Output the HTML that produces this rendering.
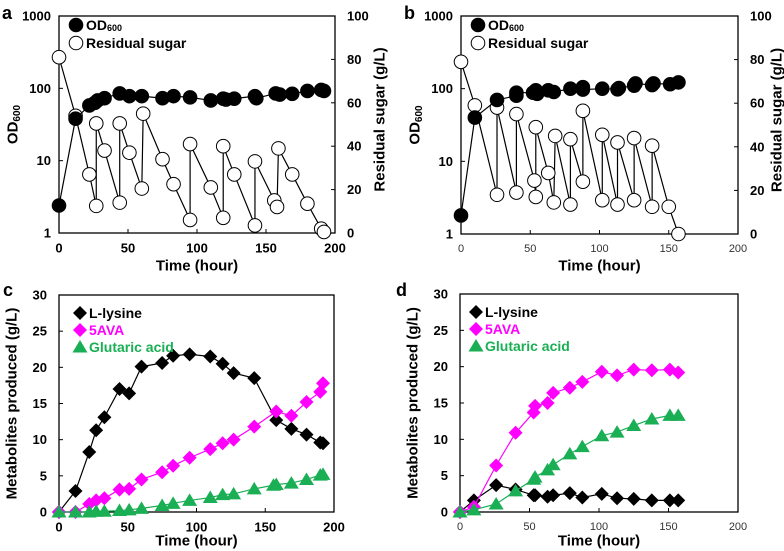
<!DOCTYPE html>
<html><head><meta charset="utf-8"><style>
body{margin:0;background:#fff;}
svg{display:block;font-family:"Liberation Sans",Arial,sans-serif;font-weight:bold;}
</style></head><body>
<svg id="fig" width="784" height="551" viewBox="0 0 784 551"></svg>
<script>
// Panel a data
const aOdT=[0,12,22,26,28,33,44,51,60,75,83,95,110,119,121,127,142,143,157,160,169,180,190,192];
const aOdV=[2.4,38,58,63,68,73,85,78,78,73,78,75,68,72,70,72,78,73,85,82,84,92,95,92];
const aSugT=[0,12,22,27,27,33,44,44,51,60,61,75,83,95,95,110,119,119,127,142,142,156,158,159,169,180,190,192];
const aSugV=[81,54,27,12.5,50.5,38,14,50.5,37,20.5,55,34,22.5,6,41,21,7,40,27,3.5,33,15,12,39,27,13.5,2,0.5];
// Panel b data
const bOdT=[0,10,26,40,40,52,54,55,63,67,79,88,88,102,113,114,125,126,138,139,151,157];
const bOdV=[1.8,40,70,80,88,88,95,85,95,90,100,105,97,100,98,102,110,118,112,118,115,122];
const bSugT=[0,10,26,26,40,40,53,54,54,63,67,68,79,79,88,88,102,102,113,113,125,125,138,138,150,157];
const bSugV=[79,59,18,58,19,55,24.5,17,49,28,14.5,45,13.5,43.5,24,56.5,15.5,45.5,13.5,42,15.5,44,12.5,40.5,12.5,0];
// Panel c data
const cT=[0,12,22,27,33,44,51,60,75,83,95,110,119,127,142,158,169,180,190,192];
const cLys=[0,2.9,8.3,11.3,13.1,17,16.4,20.1,20.6,21.6,21.8,21.5,20.5,19.2,18.5,12.7,11.5,10.7,9.6,9.5];
const cAva=[0,0,1.1,1.6,1.9,3.1,3.2,4.5,5.5,6.4,7.5,8.7,9.5,10,11.8,13.9,13.3,15.2,16.6,17.8];
const cGluT=[0,12,22,27,33,44,51,60,75,83,95,110,119,127,142,156,158,169,180,190,192];
const cGlu=[0,0,0,0.1,0.1,0.2,0.3,0.5,0.9,1.2,1.6,2,2.4,2.5,3.2,3.7,3.8,4,4.5,5.1,5.2];
// Panel d data
const dT=[0,10,26,40,53,54,63,67,79,88,102,113,125,138,151,157];
const dLys=[0,1.6,3.7,3.1,2.3,2.3,2.1,2.3,2.6,2,2.5,1.9,1.8,1.6,1.6,1.6];
const dAva=[0,0.7,6.4,10.9,13.7,14.6,15,16.4,17.1,17.9,19.3,18.8,19.6,19.5,19.6,19.2];
const dGlu=[0,0.3,1.1,2.9,4.5,4.8,5.8,6.5,8,9,10.5,11,11.9,12.8,13.3,13.3];
const xTicks=[0,50,100,150,200];
const logTicks=[1,10,100,1000];
const sugTicks=[0,20,40,60,80,100];
const metTicks=[0,5,10,15,20,25,30];

const NS="http://www.w3.org/2000/svg";
const svg=document.getElementById('fig');
function mk(tag,attrs,parent){const e=document.createElementNS(NS,tag);for(const k in attrs)e.setAttribute(k,attrs[k]);(parent||svg).appendChild(e);return e;}
function txt(x,y,s,size,anchor,parent,rot,fill,weight){const t=mk('text',{x:x,y:y,'font-size':size,'text-anchor':anchor||'middle','dominant-baseline':'central',fill:fill||'#000'},parent);if(weight)t.setAttribute('font-weight',weight);if(rot)t.setAttribute('transform','rotate(-90 '+x+' '+y+')');t.textContent=s;return t;}

function marker(g,type,x,y,fill){
  if(type==='circle') return mk('circle',{cx:x,cy:y,r:6.8,fill:fill,stroke:'#000','stroke-width':1},g);
  if(type==='diamond') return mk('polygon',{points:`${x},${y-7} ${x+7},${y} ${x},${y+7} ${x-7},${y}`,fill:fill},g);
  return mk('polygon',{points:`${x},${y-7} ${x+7.5},${y+5.5} ${x-7.5},${y+5.5}`,fill:fill},g);
}
function series(g,name,ts,vs,fx,fy,type,fill,lineColor){
  const sg=mk('g',{},g);
  
  
  const pts=ts.map((t,i)=>fx(t)+','+fy(vs[i])).join(' ');
  mk('polyline',{points:pts,fill:'none',stroke:lineColor,'stroke-width':1.2},sg);
  ts.forEach((t,i)=>{const m=marker(sg,type,fx(t),fy(vs[i]),fill);
    
    });
}
function frame(g,x0,x1,y0,y1){mk('rect',{x:x0,y:y0,width:x1-x0,height:y1-y0,fill:'none',stroke:'#000','stroke-width':1.3},g);}
function xAxis(g,fx,y1,x0,light){
  xTicks.forEach(v=>{mk('line',{x1:fx(v),x2:fx(v),y1:y1,y2:y1-4,stroke:'#000'},g);
    const t=txt(fx(v),y1+15,String(v),light?11:13,'middle',g,false,light?'#333':'#000',light?'normal':'bold');
    });
}
function panel(letter){
  const g=mk('g',{});
  
  
  return g;
}

function odPanel(letter,x0,x1,y0,y1,odT,odV,sT,sV,light,letterX,y2off){
  const g=panel(letter);
  const fx=t=>x0+(t/200)*(x1-x0);
  const fy=v=>y1-(Math.log10(v)/3)*(y1-y0);
  const fs=v=>y1-(v/100)*(y1-y0);
  frame(g,x0,x1,y0,y1);
  logTicks.forEach(v=>{mk('line',{x1:x0,x2:x0+4,y1:fy(v),y2:fy(v),stroke:'#000'},g);
    const t=txt(x0-8,fy(v),String(v),13,'end',g);});
  sugTicks.forEach(v=>{mk('line',{x1:x1,x2:x1-4,y1:fs(v),y2:fs(v),stroke:'#000'},g);
    const t=txt(x1+12,fs(v),String(v),13,'start',g);});
  xAxis(g,fx,y1,x0,light);
  const xt=txt((x0+x1)/2,266,'Time (hour)',15,'middle',g);
  const yt=mk('text',{x:x0-46,y:(y0+y1)/2,'font-size':15,'text-anchor':'middle','dominant-baseline':'central',transform:`rotate(-90 ${x0-46} ${(y0+y1)/2})`},g);
  yt.innerHTML='OD<tspan font-size="10" dy="4">600</tspan>';
  
  const y2=txt(x1+y2off,(y0+y1)/2-5,'Residual sugar (g/L)',15,'middle',g,true);
  series(g,'residual-sugar-series',sT,sV,fx,fs,'circle','#fff','#000');
  series(g,'od600-series',odT,odV,fx,fy,'circle','#000','#000');
  const lg=mk('g',{},g);
  marker(lg,'circle',x0+17,25,'#000');
  const l1=mk('text',{x:x0+27,y:25,'font-size':14,'dominant-baseline':'central'},lg);l1.innerHTML='OD<tspan font-size="9" dy="3">600</tspan>';
  
  marker(lg,'circle',x0+17,43,'#fff');
  const l2=txt(x0+27,43,'Residual sugar',14,'start',lg);
  const pl=txt(letterX,13,letter,18,'start',g);
}
odPanel('a',59,335,16,233,aOdT,aOdV,aSugT,aSugV,false,2,45);
odPanel('b',461,738,16,234,bOdT,bOdV,bSugT,bSugV,true,404,39);

function metPanel(letter,x0,x1,y0,y1,tL,lys,ava,tG,glu,light,letterX,legX){
  const g=panel(letter);
  const fx=t=>x0+(t/200)*(x1-x0);
  const fy=v=>y1-(v/30)*(y1-y0);
  frame(g,x0,x1,y0,y1);
  metTicks.forEach(v=>{mk('line',{x1:x0,x2:x0+4,y1:fy(v),y2:fy(v),stroke:'#000'},g);
    const t=txt(x0-12,fy(v),String(v),13,'end',g);});
  xAxis(g,fx,y1,x0,light);
  const xt=txt((x0+x1)/2,541,'Time (hour)',15,'middle',g);
  const yt=txt(x0-47,(y0+y1)/2,'Metabolites produced (g/L)',15,'middle',g,true);
  series(g,'lysine-series',tL,lys,fx,fy,'diamond','#000','#000');
  series(g,'5ava-series',tL,ava,fx,fy,'diamond','#ff00ff','#ff00ff');
  series(g,'glutaric-series',tG,glu,fx,fy,'triangle','#1aaf54','#1aaf54');
  const lg=mk('g',{},g);
  const rows=[['L-lysine','diamond','#000'],['5AVA','diamond','#ff00ff'],['Glutaric acid','triangle','#1aaf54']];
  rows.forEach((r,i)=>{const y=y0+18+i*17;marker(lg,r[1],legX,y,r[2]);
    const t=txt(legX+9,y,r[0],14,'start',lg,false,r[2]);});
  const pl=txt(letterX,290,letter,18,'start',g);
}
metPanel('c',59,334,295,512,cT,cLys,cAva,cGluT,cGlu,false,3,80);
metPanel('d',460,738,294,512,dT,dLys,dAva,dT,dGlu,true,396,476);
</script>
</body></html>
